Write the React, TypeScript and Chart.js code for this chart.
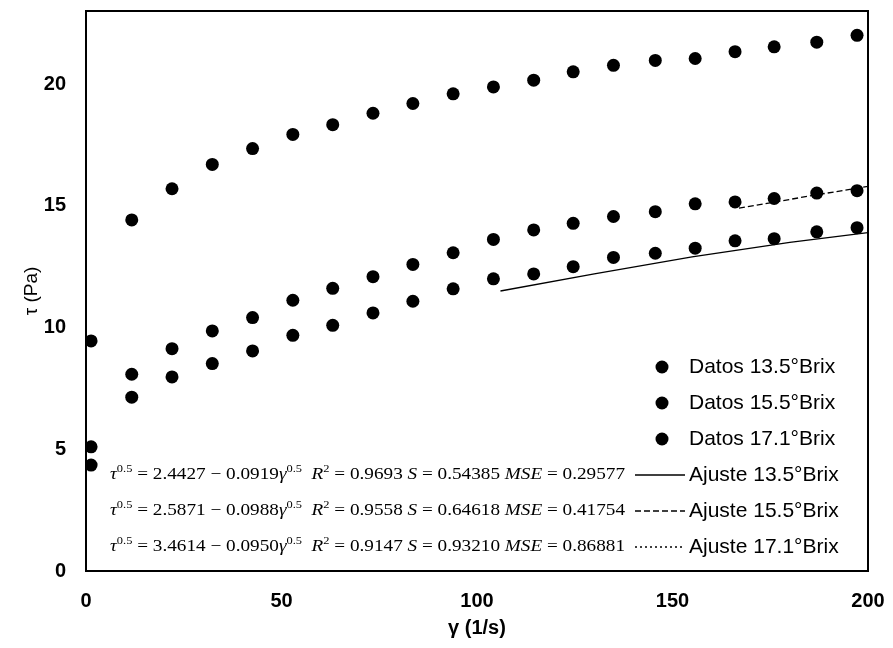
import React, { useEffect, useRef } from "react";
import { Chart, registerables } from "chart.js";

Chart.register(...registerables);

// ---- data ----
const shearRate = [1.3, 11.7, 22.0, 32.3, 42.6, 52.9, 63.1, 73.4, 83.6, 93.9, 104.2, 114.5, 124.6, 134.9, 145.6, 155.8, 166.0, 176.0, 186.9, 197.2];
const tau135 = [4.35, 7.14, 7.97, 8.52, 9.04, 9.68, 10.09, 10.6, 11.08, 11.59, 12.0, 12.2, 12.5, 12.88, 13.05, 13.26, 13.56, 13.65, 13.93, 14.1];
const tau155 = [5.1, 8.08, 9.13, 9.86, 10.41, 11.12, 11.61, 12.09, 12.59, 13.07, 13.62, 14.01, 14.28, 14.56, 14.76, 15.08, 15.16, 15.3, 15.52, 15.62];
const tau171 = [9.45, 14.42, 15.7, 16.7, 17.35, 17.93, 18.33, 18.8, 19.2, 19.6, 19.88, 20.16, 20.5, 20.77, 20.97, 21.05, 21.33, 21.53, 21.72, 22.0];

const fit135X = [106, 130, 155, 180, 200];
const fit135Y = [11.5, 12.2, 12.9, 13.5, 13.9];
const fit155X = [167, 185, 200];
const fit155Y = [14.9, 15.4, 15.8];
const fit171X: number[] = [];
const fit171Y: number[] = [];

const dataLabels = ["Datos 13.5°Brix", "Datos 15.5°Brix", "Datos 17.1°Brix"];
const fitLabels = ["Ajuste 13.5°Brix", "Ajuste 15.5°Brix", "Ajuste 17.1°Brix"];

const eqIntercept = ["2.4427", "2.5871", "3.4614"];
const eqSlope = ["0.0919", "0.0988", "0.0950"];
const eqR2 = ["0.9693", "0.9558", "0.9147"];
const eqS = ["0.54385", "0.64618", "0.93210"];
const eqMSE = ["0.29577", "0.41754", "0.86881"];

const xTicks = [0, 50, 100, 150, 200];
const yTicks = [0, 5, 10, 15, 20];

const pts = (xs: number[], ys: number[]) => xs.map((x, i) => ({ x, y: ys[i] }));

type Seg = { t: string; it?: boolean; sup?: boolean };

function eqSegments(i: number): Seg[] {
  return [
    { t: "τ", it: true },
    { t: "0.5", sup: true },
    { t: " = " + eqIntercept[i] + " − " + eqSlope[i] },
    { t: "γ", it: true },
    { t: "0.5", sup: true },
    { t: "  " },
    { t: "R", it: true },
    { t: "2", sup: true },
    { t: " = " + eqR2[i] + " " },
    { t: "S", it: true },
    { t: " = " + eqS[i] + " " },
    { t: "MSE", it: true },
    { t: " = " + eqMSE[i] },
  ];
}

const legendPlugin = {
  id: "customLegend",
  afterDraw(chart: any) {
    const ctx = chart.ctx;
    const ca = chart.chartArea;
    ctx.save();
    // frame
    ctx.strokeStyle = "#000";
    ctx.lineWidth = 2;
    ctx.strokeRect(ca.left, ca.top, ca.right - ca.left, ca.bottom - ca.top);

    const textX = ca.right - 179;
    const sampleL = ca.right - 233;
    const sampleR = ca.right - 183;
    const dotX = ca.right - 206;
    const rowGap = 36;
    const lastRow = ca.bottom - 24;
    const rows = [0, 1, 2, 3, 4, 5].map((k) => lastRow - (5 - k) * rowGap);

    ctx.font = "21px 'Liberation Sans', Arial, sans-serif";
    ctx.fillStyle = "#000";
    ctx.textBaseline = "middle";
    ctx.textAlign = "left";
    for (let i = 0; i < 3; i++) {
      const y = rows[i];
      ctx.beginPath();
      ctx.arc(dotX, y, 6.5, 0, Math.PI * 2);
      ctx.fill();
      ctx.fillText(dataLabels[i], textX, y);
    }
    const dashes = [[], [6, 3], [2, 3]];
    for (let i = 0; i < 3; i++) {
      const y = rows[3 + i];
      ctx.setLineDash(dashes[i]);
      ctx.lineWidth = 1.3;
      ctx.beginPath();
      ctx.moveTo(sampleL, y);
      ctx.lineTo(sampleR, y);
      ctx.stroke();
      ctx.setLineDash([]);
      ctx.fillText(fitLabels[i], textX, y);

      // equation
      const segs = eqSegments(i);
      const base = 17;
      const fontFor = (s: Seg) =>
        `${s.it ? "italic " : ""}${s.sup ? Math.round(base * 0.62) : base}px 'Liberation Serif', 'Times New Roman', serif`;
      let total = 0;
      for (const s of segs) {
        ctx.font = fontFor(s);
        total += ctx.measureText(s.t).width;
      }
      const eqLeft = ca.left + 24;
      const eqRight = sampleL - 10;
      const sx = (eqRight - eqLeft) / total;
      ctx.save();
      ctx.translate(eqLeft, y);
      ctx.scale(sx, 1);
      let cx = 0;
      for (const s of segs) {
        ctx.font = fontFor(s);
        ctx.fillText(s.t, cx, s.sup ? -6 : 0);
        cx += ctx.measureText(s.t).width;
      }
      ctx.restore();
      ctx.font = "21px 'Liberation Sans', Arial, sans-serif";
    }
    ctx.restore();
  },
};

const zeroPad = (s: any) => {
  s.paddingTop = 0;
  s.paddingBottom = 0;
  s.paddingLeft = 0;
  s.paddingRight = 0;
};

export default function App() {
  const ref = useRef<HTMLCanvasElement | null>(null);
  useEffect(() => {
    if (!ref.current) return;
    const dot = { showLine: false, pointRadius: 6.5, pointBackgroundColor: "#000", pointBorderColor: "#000", pointBorderWidth: 0, borderColor: "#000" };
    const chart = new Chart(ref.current, {
      type: "scatter",
      data: {
        datasets: [
          { label: dataLabels[0], data: pts(shearRate, tau135), ...dot },
          { label: dataLabels[1], data: pts(shearRate, tau155), ...dot },
          { label: dataLabels[2], data: pts(shearRate, tau171), ...dot },
          { label: fitLabels[0], data: pts(fit135X, fit135Y), showLine: true, pointRadius: 0, borderColor: "#000", borderWidth: 1.3 },
          { label: fitLabels[1], data: pts(fit155X, fit155Y), showLine: true, pointRadius: 0, borderColor: "#000", borderWidth: 1.3, borderDash: [6, 3] },
          { label: fitLabels[2], data: pts(fit171X, fit171Y), showLine: true, pointRadius: 0, borderColor: "#000", borderWidth: 1.3, borderDash: [2, 3] },
        ],
      },
      options: {
        animation: false,
        responsive: false,
        layout: { padding: { top: 11, right: 25, left: 0, bottom: 0 } },
        plugins: { legend: { display: false }, tooltip: { enabled: false } },
        scales: {
          x: {
            type: "linear",
            min: xTicks[0],
            max: xTicks[xTicks.length - 1],
            afterBuildTicks: (s: any) => { s.ticks = xTicks.map((v) => ({ value: v })); },
            afterFit: (s: any) => { s.height = 77; zeroPad(s); },
            ticks: { color: "#000", font: { family: "'Liberation Sans', Arial, sans-serif", size: 20, weight: "bold" }, padding: 18, maxRotation: 0 },
            grid: { display: false, drawTicks: false },
            border: { display: true, color: "#000", width: 2 },
            title: { display: true, text: "γ (1/s)", color: "#000", font: { family: "'Liberation Sans', Arial, sans-serif", size: 20, weight: "bold" }, padding: { top: 0, bottom: 8 } },
          },
          y: {
            type: "linear",
            min: 0,
            max: 23,
            afterBuildTicks: (s: any) => { s.ticks = yTicks.map((v) => ({ value: v })); },
            afterFit: (s: any) => { s.width = 86; zeroPad(s); },
            ticks: { color: "#000", font: { family: "'Liberation Sans', Arial, sans-serif", size: 20, weight: "bold" }, padding: 20 },
            grid: { display: false, drawTicks: false },
            border: { display: true, color: "#000", width: 2 },
            title: { display: true, text: "τ (Pa)", color: "#000", font: { family: "'Liberation Sans', Arial, sans-serif", size: 19 }, padding: { top: 20, bottom: 0 } },
          },
        },
      },
      plugins: [legendPlugin],
    });
    return () => chart.destroy();
  }, []);
  return (
    <div style={{ position: "absolute", left: 0, top: 0, width: 893, height: 648, background: "#fff" }}>
      <canvas ref={ref} width={893} height={648} style={{ width: 893, height: 648, display: "block" }} />
    </div>
  );
}
